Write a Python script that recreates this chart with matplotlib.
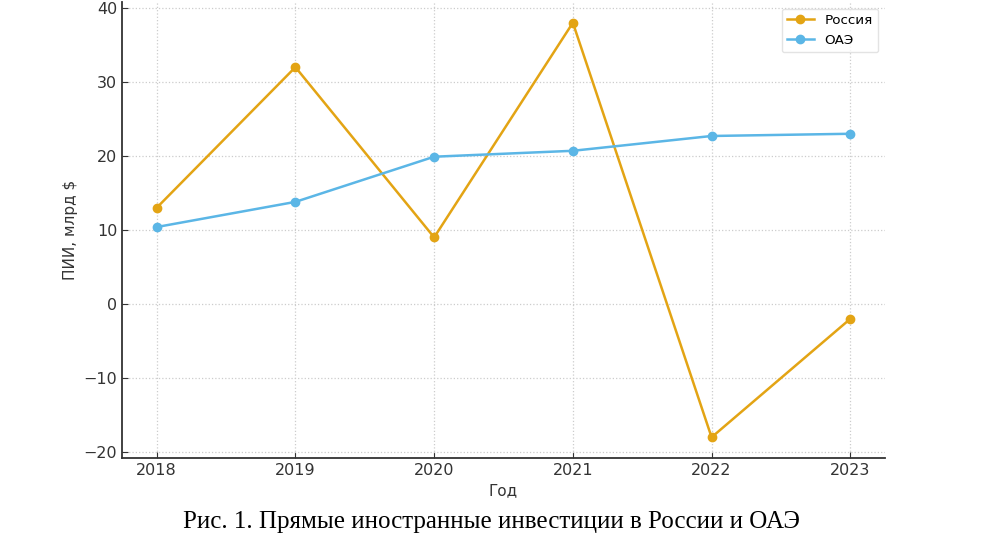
import matplotlib
matplotlib.use('Agg')
import matplotlib.pyplot as plt

# данные (млрд $)
years = [2018, 2019, 2020, 2021, 2022, 2023]
russia = [13, 32, 9, 38, -18, -2]
uae = [10.4, 13.8, 19.9, 20.7, 22.7, 23.0]

plt.rcParams['font.family'] = ['DejaVu Sans']

fig = plt.figure(figsize=(9.82, 5.33), dpi=100)
ax = fig.add_axes([122/982, 75/533, 763/982, 456/533])

ax.plot(years, russia, marker='o', color='#E3A414', lw=1.8, ms=6, label='Россия')
ax.plot(years, uae, marker='o', color='#5BB6E6', lw=1.8, ms=6, label='ОАЭ')

ax.set_xlim(2017.75, 2023.25)
ax.set_ylim(-20.8, 40.8)
ax.set_yticks([-20, -10, 0, 10, 20, 30, 40])
ax.set_yticklabels(['\u221220', '\u221210', '0', '10', '20', '30', '40'])
ax.grid(True, ls=':', color='#cccccc', lw=0.9)

for s in ['top', 'right']:
    ax.spines[s].set_visible(False)
for s in ['left', 'bottom']:
    ax.spines[s].set_color('#333333')
    ax.spines[s].set_linewidth(1.3)

ax.tick_params(direction='in', length=4, labelsize=11.5, colors='#333333', labelcolor='#333333')
ax.set_xlabel('Год', fontsize=11, color='#333333', labelpad=4)
ax.set_ylabel('ПИИ, млрд $', fontsize=11, color='#333333', labelpad=4)

leg = ax.legend(loc='upper right', fontsize=9.7, frameon=True)
leg.get_frame().set_edgecolor('#dddddd')

fig.text(0.5, 5/533, 'Рис. 1. Прямые иностранные инвестиции в России и ОАЭ',
         ha='center', va='baseline', fontsize=18, family='Liberation Serif', color='black')

fig.savefig('out.png', dpi=100)
